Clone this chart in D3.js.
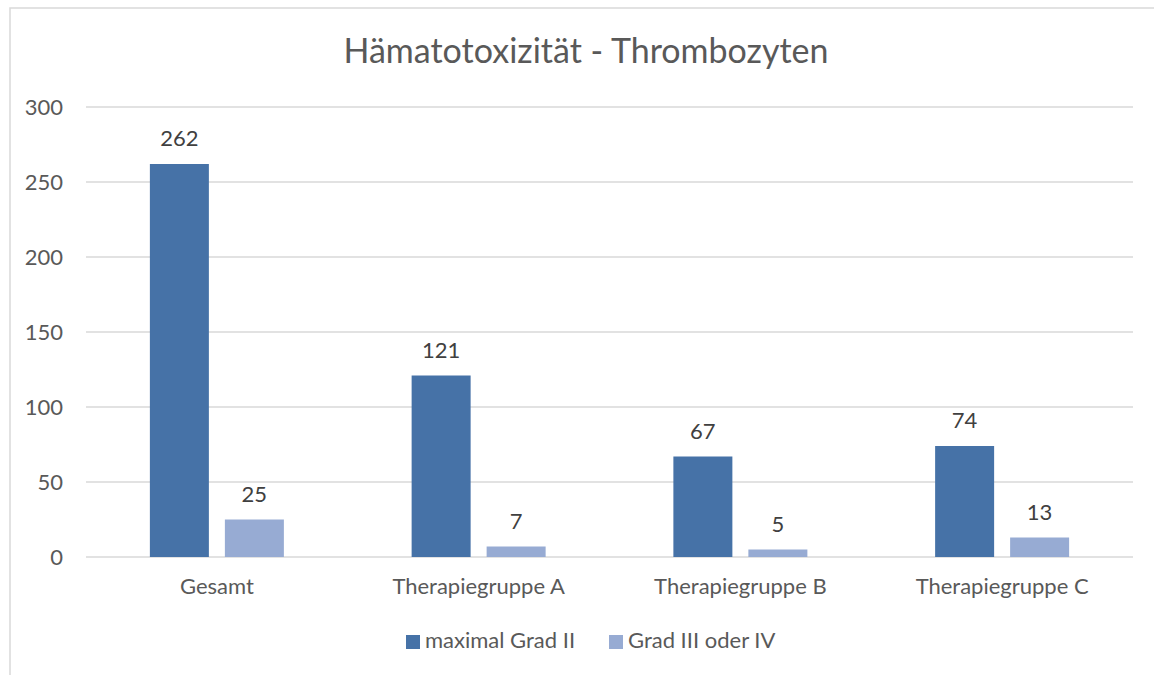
<!DOCTYPE html>
<html>
<head>
<meta charset="utf-8">
<script src="https://cdn.jsdelivr.net/npm/d3@7"></script>
<style>
  body { margin: 0; background: #ffffff; }
  text { font-family: Lato, "Open Sans", sans-serif; }
</style>
</head>
<body>
<svg id="chart" width="1154" height="675"></svg>
<script>
// chart data
var categories = ['Gesamt', 'Therapiegruppe A', 'Therapiegruppe B', 'Therapiegruppe C'];
var seriesNames = ['maximal Grad II', 'Grad III oder IV'];
var maxGradII = [262, 121, 67, 74];
var gradIIIorIV = [25, 7, 5, 13];
var yTicks = [0, 50, 100, 150, 200, 250, 300];
var colors = ['#4672a7', '#97abd3'];

var svg = d3.select('#chart'),
  margin = {top: 107, right: 21, bottom: 118, left: 86},
  width = svg.attr('width') - margin.left - margin.right,
  height = svg.attr('height') - margin.top - margin.bottom;

// outer frame (runs off the right and bottom edge)
svg.append('rect')
  .attr('x', 10).attr('y', 8)
  .attr('width', 1160).attr('height', 700)
  .attr('fill', 'none')
  .attr('stroke', '#d9d9d9')
  .attr('stroke-width', 1.5);

svg.append('text')
  .attr('x', 586).attr('y', 63)
  .attr('text-anchor', 'middle')
  .attr('font-size', 34)
  .attr('fill', '#595959')
  .text('Hämatotoxizität - Thrombozyten');

var g = svg.append('g')
  .attr('transform', 'translate(' + margin.left + ', ' + margin.top + ')');

var x0 = d3.scaleBand().domain(categories).range([0, width]).padding(0);
var x1 = d3.scaleBand().domain(seriesNames).range([0, x0.bandwidth()])
  .paddingInner(0.2133).paddingOuter(0.8517);
var y = d3.scaleLinear().domain([0, 300]).range([height, 0]);

// gridlines
g.selectAll('.grid')
  .data(yTicks)
  .enter()
  .append('line')
    .attr('x1', 0).attr('x2', width)
    .attr('y1', function(d) { return y(d); })
    .attr('y2', function(d) { return y(d); })
    .attr('stroke', '#d9d9d9')
    .attr('stroke-width', 1.5);

// y axis labels
var yAxis = g.append('g').call(d3.axisLeft(y).tickValues(yTicks).tickSize(0).tickPadding(23));
yAxis.select('.domain').remove();
yAxis.selectAll('text')
  .attr('font-family', 'Lato, sans-serif')
  .attr('font-size', 22)
  .attr('fill', '#595959');

var rows = categories.map(function(c, i) {
  return {cat: c, values: [maxGradII[i], gradIIIorIV[i]]};
});

var groups = g.selectAll('.group')
  .data(rows)
  .enter()
  .append('g')
    .attr('transform', function(d) { return 'translate(' + x0(d.cat) + ', 0)'; });

var bars = groups.selectAll('.bar')
  .data(function(d) {
    return d.values.map(function(v, j) { return {series: seriesNames[j], value: v, idx: j}; });
  })
  .enter();

bars.append('rect')
  .attr('x', function(d) { return x1(d.series); })
  .attr('y', function(d) { return y(d.value); })
  .attr('width', x1.bandwidth())
  .attr('height', function(d) { return height - y(d.value); })
  .attr('fill', function(d) { return colors[d.idx]; });

bars.append('text')
  .attr('x', function(d) { return x1(d.series) + x1.bandwidth() / 2; })
  .attr('y', function(d) { return y(d.value) - 18; })
  .attr('text-anchor', 'middle')
  .attr('font-size', 22)
  .attr('fill', '#404040')
  .text(function(d) { return d.value; });

// x axis labels
var xAxis = g.append('g')
  .attr('transform', 'translate(0, ' + height + ')')
  .call(d3.axisBottom(x0).tickSize(0).tickPadding(21));
xAxis.select('.domain').remove();
xAxis.selectAll('text')
  .attr('font-family', 'Lato, sans-serif')
  .attr('font-size', 22)
  .attr('fill', '#595959');

// legend
var legendX = [406, 609];
var legend = svg.selectAll('.legend')
  .data(seriesNames)
  .enter()
  .append('g')
    .attr('transform', function(d, i) { return 'translate(' + legendX[i] + ', 635)'; });
legend.append('rect')
  .attr('width', 14).attr('height', 14)
  .attr('fill', function(d, i) { return colors[i]; });
legend.append('text')
  .attr('x', 19).attr('y', 13)
  .attr('font-size', 22)
  .attr('fill', '#595959')
  .text(function(d) { return d; });
</script>
</body>
</html>
